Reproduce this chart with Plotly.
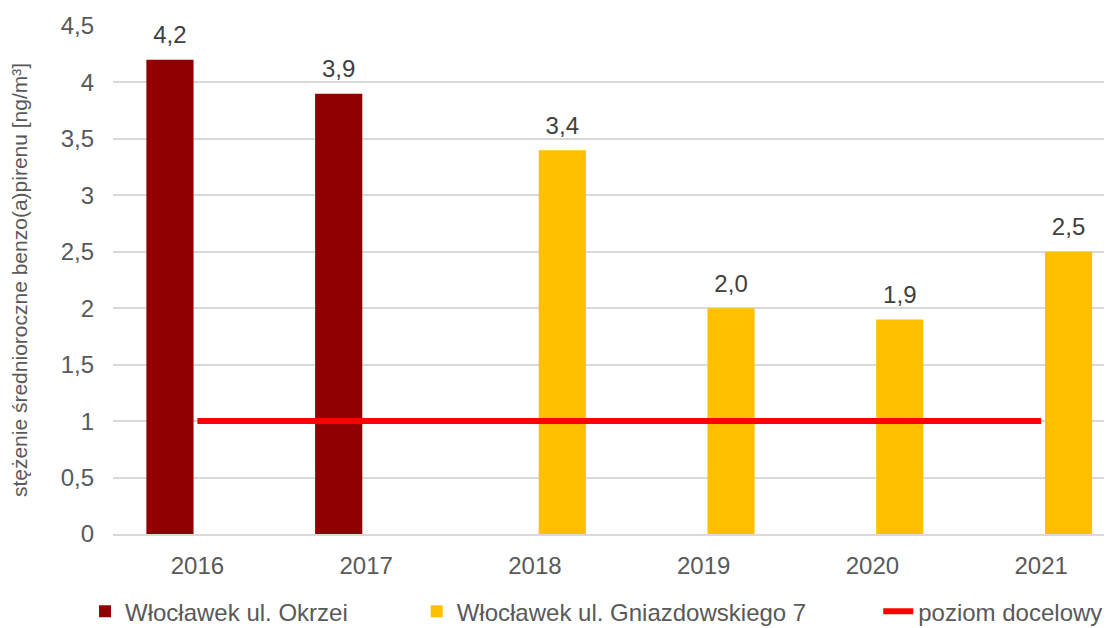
import plotly.graph_objects as go

years = ["2016", "2017", "2018", "2019", "2020", "2021"]
okrzei_years = ["2016", "2017"]
okrzei_vals = [4.2, 3.9]
gniazd_years = ["2018", "2019", "2020", "2021"]
gniazd_vals = [3.4, 2.0, 1.9, 2.5]
target_vals = [1, 1, 1, 1, 1, 1]

name_okrzei = "Włocławek ul. Okrzei"
name_gniazd = "Włocławek ul. Gniazdowskiego 7"
name_target = "poziom docelowy"

FONT = "Liberation Sans, Arial, sans-serif"
TXT = "#595959"
LBL = "#404040"
FS = 24

fig = go.Figure()
fig.add_trace(go.Bar(
    x=okrzei_years, y=okrzei_vals, name=name_okrzei,
    marker=dict(color="#900000", line=dict(width=0)),
    offsetgroup="a", legend="legend",
))
fig.add_trace(go.Bar(
    x=gniazd_years, y=gniazd_vals, name=name_gniazd,
    marker=dict(color="#FFC000", line=dict(width=0)),
    offsetgroup="b", legend="legend2",
))
fig.add_trace(go.Scatter(
    x=years, y=target_vals, name=name_target, mode="lines",
    line=dict(color="#FF0000", width=6),
    xaxis="x2", legend="legend3",
))

# data labels above bars (grouped text traces aligned with the bars)
for xs, vs, grp in ((okrzei_years, okrzei_vals, "a"), (gniazd_years, gniazd_vals, "b")):
    fig.add_trace(go.Scatter(
        x=xs, y=vs, mode="markers+text", offsetgroup=grp,
        text=[f"{v:.1f}".replace(".", ",") for v in vs],
        textposition="top center",
        textfont=dict(size=FS, color=LBL, family=FONT),
        marker=dict(size=15, color="rgba(0,0,0,0)"),
        showlegend=False, hoverinfo="skip", cliponaxis=False,
    ))

leg_common = dict(orientation="h", yanchor="middle", y=-0.153, xanchor="left",
                  font=dict(size=FS, color=TXT, family=FONT),
                  bgcolor="rgba(0,0,0,0)")

xcommon = dict(type="category", categoryorder="array", categoryarray=years,
               range=[-0.5, 5.42], automargin=False)

fig.update_layout(
    width=1104, height=620,
    margin=dict(l=105, r=0, t=18, b=94, autoexpand=False),
    paper_bgcolor="white", plot_bgcolor="white",
    separators=", ",
    barmode="group", bargap=0.35, bargroupgap=0.14,
    scattermode="group", scattergap=0.35,
    font=dict(family=FONT, color=TXT, size=FS),
    showlegend=True,
    legend=dict(x=-0.028, **leg_common),
    legend2=dict(x=0.304, **leg_common),
    legend3=dict(x=0.766, **leg_common),
    xaxis=dict(
        **xcommon, showgrid=False, showline=True,
        linecolor="#D9D9D9", linewidth=1.5, ticks="",
        tickfont=dict(size=FS, color=TXT), ticklabelstandoff=9,
    ),
    xaxis2=dict(**xcommon, overlaying="x", visible=False),
    yaxis=dict(
        range=[0, 4.5], dtick=0.5, showgrid=True, gridcolor="#D9D9D9",
        gridwidth=1.5, zeroline=False, showline=False, ticks="",
        tickfont=dict(size=FS, color=TXT), ticklabelstandoff=18,
        automargin=False,
        title=dict(text="stężenie średnioroczne benzo(a)pirenu [ng/m³]",
                   font=dict(size=21, color=TXT), standoff=33),
    ),
)

fig.write_html("out.html")
